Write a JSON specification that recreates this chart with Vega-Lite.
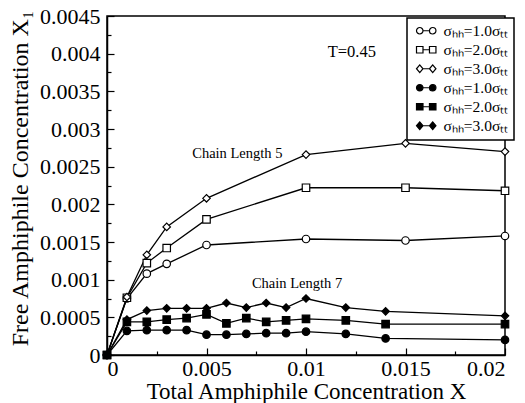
{
  "$schema": "https://vega.github.io/schema/vega-lite/v6.json",
  "width": 398,
  "height": 339,
  "autosize": "none",
  "padding": {"left": 107, "top": 16, "right": 20, "bottom": 48},
  "background": "white",
  "config": {
    "view": {"stroke": "black", "strokeWidth": 1.5},
    "axis": {
      "grid": false,
      "domainColor": "black",
      "domainWidth": 1.5,
      "tickColor": "black",
      "tickWidth": 1.2,
      "labelFont": "Liberation Serif",
      "labelFontSize": 22,
      "labelColor": "black",
      "titleFont": "Liberation Serif",
      "titleFontSize": 23,
      "titleFontWeight": "normal",
      "titleColor": "black"
    },
    "legend": {"strokeWidth": 1.5}
  },
  "datasets": {
    "curves": [
      {"x": 0, "y": 0, "s": "5-1.0"},
      {"x": 0.001, "y": 0.00075, "s": "5-1.0"},
      {"x": 0.002, "y": 0.00108, "s": "5-1.0"},
      {"x": 0.003, "y": 0.00121, "s": "5-1.0"},
      {"x": 0.005, "y": 0.00146, "s": "5-1.0"},
      {"x": 0.01, "y": 0.00154, "s": "5-1.0"},
      {"x": 0.015, "y": 0.00152, "s": "5-1.0"},
      {"x": 0.02, "y": 0.00158, "s": "5-1.0"},
      {"x": 0, "y": 0, "s": "5-2.0"},
      {"x": 0.001, "y": 0.00076, "s": "5-2.0"},
      {"x": 0.002, "y": 0.00122, "s": "5-2.0"},
      {"x": 0.003, "y": 0.00142, "s": "5-2.0"},
      {"x": 0.005, "y": 0.0018, "s": "5-2.0"},
      {"x": 0.01, "y": 0.00222, "s": "5-2.0"},
      {"x": 0.015, "y": 0.00222, "s": "5-2.0"},
      {"x": 0.02, "y": 0.00218, "s": "5-2.0"},
      {"x": 0, "y": 0, "s": "5-3.0"},
      {"x": 0.001, "y": 0.00077, "s": "5-3.0"},
      {"x": 0.002, "y": 0.00133, "s": "5-3.0"},
      {"x": 0.003, "y": 0.0017, "s": "5-3.0"},
      {"x": 0.005, "y": 0.00208, "s": "5-3.0"},
      {"x": 0.01, "y": 0.00266, "s": "5-3.0"},
      {"x": 0.015, "y": 0.00281, "s": "5-3.0"},
      {"x": 0.02, "y": 0.0027, "s": "5-3.0"},
      {"x": 0, "y": 0, "s": "7-1.0"},
      {"x": 0.001, "y": 0.00032, "s": "7-1.0"},
      {"x": 0.002, "y": 0.00033, "s": "7-1.0"},
      {"x": 0.003, "y": 0.00033, "s": "7-1.0"},
      {"x": 0.004, "y": 0.00033, "s": "7-1.0"},
      {"x": 0.005, "y": 0.00027, "s": "7-1.0"},
      {"x": 0.006, "y": 0.00027, "s": "7-1.0"},
      {"x": 0.007, "y": 0.00028, "s": "7-1.0"},
      {"x": 0.008, "y": 0.00029, "s": "7-1.0"},
      {"x": 0.009, "y": 0.00029, "s": "7-1.0"},
      {"x": 0.01, "y": 0.00031, "s": "7-1.0"},
      {"x": 0.012, "y": 0.00028, "s": "7-1.0"},
      {"x": 0.014, "y": 0.00022, "s": "7-1.0"},
      {"x": 0.02, "y": 0.0002, "s": "7-1.0"},
      {"x": 0, "y": 0, "s": "7-2.0"},
      {"x": 0.001, "y": 0.00044, "s": "7-2.0"},
      {"x": 0.002, "y": 0.00044, "s": "7-2.0"},
      {"x": 0.003, "y": 0.00047, "s": "7-2.0"},
      {"x": 0.004, "y": 0.00049, "s": "7-2.0"},
      {"x": 0.005, "y": 0.00054, "s": "7-2.0"},
      {"x": 0.006, "y": 0.00042, "s": "7-2.0"},
      {"x": 0.007, "y": 0.00049, "s": "7-2.0"},
      {"x": 0.008, "y": 0.00044, "s": "7-2.0"},
      {"x": 0.009, "y": 0.00046, "s": "7-2.0"},
      {"x": 0.01, "y": 0.00048, "s": "7-2.0"},
      {"x": 0.012, "y": 0.00046, "s": "7-2.0"},
      {"x": 0.014, "y": 0.00041, "s": "7-2.0"},
      {"x": 0.02, "y": 0.00041, "s": "7-2.0"},
      {"x": 0, "y": 0, "s": "7-3.0"},
      {"x": 0.001, "y": 0.00047, "s": "7-3.0"},
      {"x": 0.002, "y": 0.00059, "s": "7-3.0"},
      {"x": 0.003, "y": 0.00062, "s": "7-3.0"},
      {"x": 0.004, "y": 0.00062, "s": "7-3.0"},
      {"x": 0.005, "y": 0.00062, "s": "7-3.0"},
      {"x": 0.006, "y": 0.00069, "s": "7-3.0"},
      {"x": 0.007, "y": 0.00063, "s": "7-3.0"},
      {"x": 0.008, "y": 0.00069, "s": "7-3.0"},
      {"x": 0.009, "y": 0.00063, "s": "7-3.0"},
      {"x": 0.01, "y": 0.00075, "s": "7-3.0"},
      {"x": 0.012, "y": 0.00063, "s": "7-3.0"},
      {"x": 0.014, "y": 0.00058, "s": "7-3.0"},
      {"x": 0.02, "y": 0.00052, "s": "7-3.0"}
    ],
    "chainNotes": [
      {"x": 0.00655, "y": 0.00261, "label": "Chain Length 5"},
      {"x": 0.00955, "y": 0.00089, "label": "Chain Length 7"}
    ],
    "tempNote": [
      {"x": 0.0123, "y": 0.00396, "label": "T=0.45"}
    ]
  },
  "layer": [
    {
      "data": {"name": "curves"},
      "mark": {"type": "line", "stroke": "black", "strokeWidth": 1.3},
      "encoding": {
        "x": {
          "field": "x", "type": "quantitative",
          "scale": {"domain": [0, 0.02], "nice": false, "zero": true},
          "axis": {
            "orient": "bottom",
            "values": [0, 0.005, 0.01, 0.015, 0.02],
            "labelExpr": "format(datum.value, '~g')",
            "tickSize": -7,
            "labelPadding": 27,
            "labelBaseline": "alphabetic",
            "title": "Total Amphiphile Concentration X",
            "titleX": 199,
            "titleY": 43,
            "titleAlign": "center",
            "titleBaseline": "alphabetic"
          }
        },
        "y": {
          "field": "y", "type": "quantitative",
          "scale": {"domain": [0, 0.0045], "nice": false, "zero": true},
          "axis": {
            "orient": "left",
            "values": [0, 0.0005, 0.001, 0.0015, 0.002, 0.0025, 0.003, 0.0035, 0.004, 0.0045],
            "labelExpr": "format(datum.value, '~g')",
            "tickSize": -7,
            "labelPadding": 14,
            "title": "Free Amphiphile Concentration X₁",
            "titleFontSize": 24,
            "titleX": -80,
            "titleY": 162,
            "titleAngle": -90,
            "titleAlign": "center",
            "titleBaseline": "alphabetic"
          }
        },
        "detail": {"field": "s"},
        "order": {"field": "x", "type": "quantitative"}
      }
    },
    {
      "data": {"name": "curves"},
      "mark": {"type": "point", "filled": true, "stroke": "black", "strokeWidth": 1.2, "size": 56, "opacity": 1},
      "encoding": {
        "x": {
          "field": "x", "type": "quantitative",
          "axis": {
            "orient": "bottom",
            "values": [0.0025, 0.0075, 0.0125, 0.0175],
            "tickSize": -4,
            "labels": false,
            "domain": false,
            "title": null
          }
        },
        "y": {
          "field": "y", "type": "quantitative",
          "axis": {
            "orient": "left",
            "values": [0.00025, 0.00075, 0.00125, 0.00175, 0.00225, 0.00275, 0.00325, 0.00375, 0.00425],
            "tickSize": -4,
            "labels": false,
            "domain": false,
            "title": null
          }
        },
        "shape": {
          "field": "s", "type": "nominal",
          "scale": {
            "domain": ["5-1.0", "5-2.0", "5-3.0", "7-1.0", "7-2.0", "7-3.0"],
            "range": ["circle", "square", "diamond", "circle", "square", "diamond"]
          },
          "legend": null
        },
        "fill": {
          "field": "s", "type": "nominal",
          "scale": {
            "domain": ["5-1.0", "5-2.0", "5-3.0", "7-1.0", "7-2.0", "7-3.0"],
            "range": ["white", "white", "white", "black", "black", "black"]
          },
          "legend": null
        }
      }
    },
    {
      "data": {"name": "curves"},
      "mark": {"type": "point", "filled": true, "stroke": "black", "strokeWidth": 1.2, "size": 42, "opacity": 0},
      "encoding": {
        "x": {"field": "x", "type": "quantitative", "axis": null},
        "y": {"field": "y", "type": "quantitative", "axis": null},
        "shape": {
          "field": "s", "type": "nominal",
          "scale": {
            "domain": ["5-1.0", "5-2.0", "5-3.0", "7-1.0", "7-2.0", "7-3.0"],
            "range": [
              "M1,0A1,1,0,1,1,-1,0A1,1,0,1,1,1,0Z M1,0L3,0 M5,0A1,1,0,1,1,3,0A1,1,0,1,1,5,0Z",
              "M-1,-1H1V1H-1Z M1,0H3 M3,-1H5V1H3Z",
              "M-1,0L0,-1.2L1,0L0,1.2Z M1,0H3 M3,0L4,-1.2L5,0L4,1.2Z",
              "M1,0A1,1,0,1,1,-1,0A1,1,0,1,1,1,0Z M1,0L3,0 M5,0A1,1,0,1,1,3,0A1,1,0,1,1,5,0Z",
              "M-1,-1H1V1H-1Z M1,0H3 M3,-1H5V1H3Z",
              "M-1,0L0,-1.2L1,0L0,1.2Z M1,0H3 M3,0L4,-1.2L5,0L4,1.2Z"
            ]
          },
          "legend": {
            "orient": "none",
            "legendX": 300,
            "legendY": 2,
            "title": null,
            "labelExpr": "'σₕₕ=' + slice(datum.value, 2) + 'σₜₜ'",
            "labelFont": "Liberation Serif",
            "labelFontSize": 15.5,
            "labelColor": "black",
            "labelOffset": 16,
            "symbolSize": 42,
            "symbolOpacity": 1,
            "symbolStrokeColor": "black",
            "symbolStrokeWidth": 1.2,
            "rowPadding": 2,
            "padding": 5,
            "strokeColor": "black",
            "fillColor": "white",
            "encode": {
              "symbols": {"update": {"stroke": {"value": "black"}, "strokeWidth": {"value": 1.2}, "opacity": {"value": 1}}}
            }
          }
        },
        "fill": {
          "field": "s", "type": "nominal",
          "scale": {
            "domain": ["5-1.0", "5-2.0", "5-3.0", "7-1.0", "7-2.0", "7-3.0"],
            "range": ["white", "white", "white", "black", "black", "black"]
          },
          "legend": {
            "orient": "none",
            "legendX": 300,
            "legendY": 2,
            "title": null,
            "labelExpr": "'σₕₕ=' + slice(datum.value, 2) + 'σₜₜ'",
            "labelFont": "Liberation Serif",
            "labelFontSize": 15.5,
            "labelColor": "black",
            "labelOffset": 16,
            "symbolSize": 42,
            "symbolOpacity": 1,
            "symbolStrokeColor": "black",
            "symbolStrokeWidth": 1.2,
            "rowPadding": 2,
            "padding": 5,
            "strokeColor": "black",
            "fillColor": "white",
            "encode": {
              "symbols": {"update": {"stroke": {"value": "black"}, "strokeWidth": {"value": 1.2}, "opacity": {"value": 1}}}
            }
          }
        }
      }
    },
    {
      "data": {"name": "chainNotes"},
      "mark": {"type": "text", "font": "Liberation Serif", "fontSize": 14.5, "align": "center", "baseline": "alphabetic", "color": "black"},
      "encoding": {
        "x": {"field": "x", "type": "quantitative", "axis": null},
        "y": {"field": "y", "type": "quantitative", "axis": null},
        "text": {"field": "label"}
      }
    },
    {
      "data": {"name": "tempNote"},
      "mark": {"type": "text", "font": "Liberation Serif", "fontSize": 16.5, "align": "center", "baseline": "alphabetic", "color": "black"},
      "encoding": {
        "x": {"field": "x", "type": "quantitative", "axis": null},
        "y": {"field": "y", "type": "quantitative", "axis": null},
        "text": {"field": "label"}
      }
    }
  ],
  "resolve": {
    "axis": {"x": "independent", "y": "independent"},
    "scale": {"shape": "independent", "fill": "independent"}
  }
}
